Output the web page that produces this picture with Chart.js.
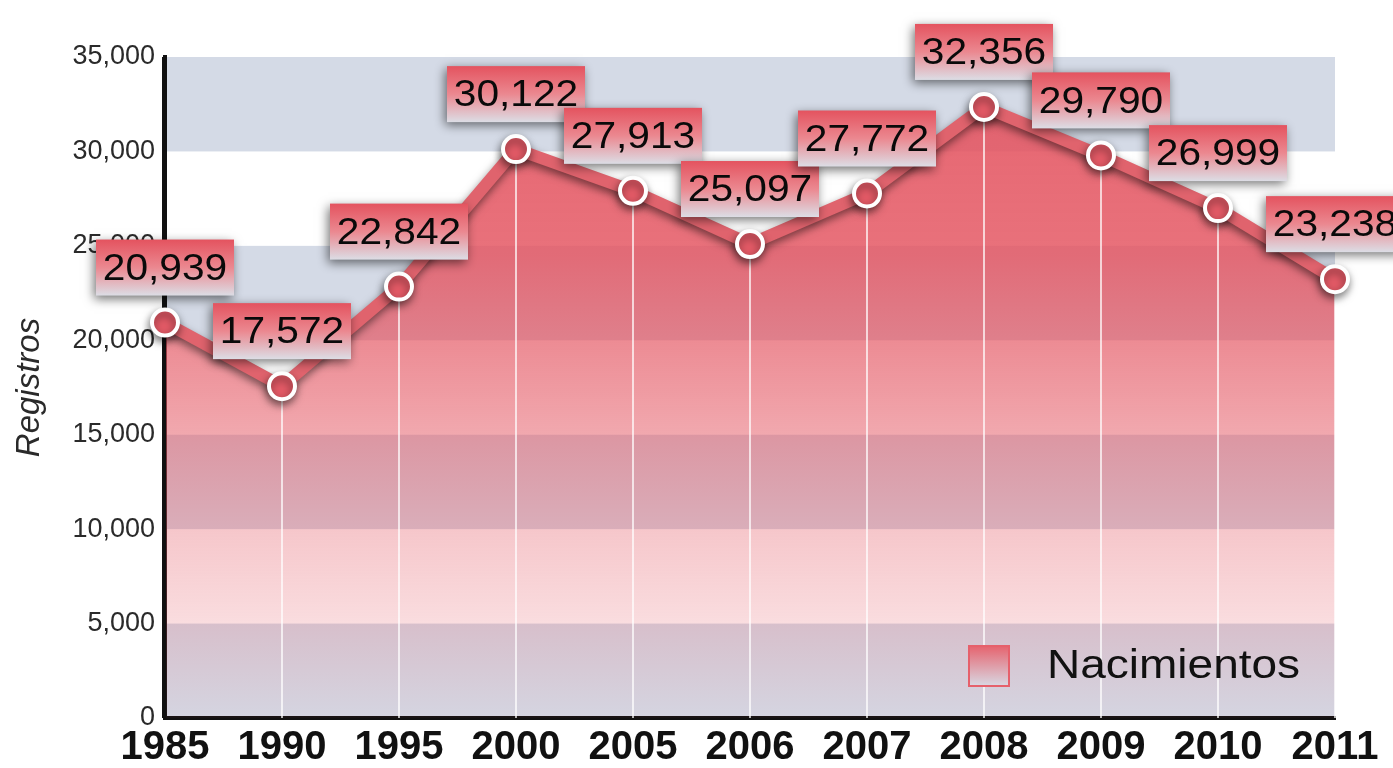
<!DOCTYPE html>
<html>
<head>
<meta charset="utf-8">
<script src="https://cdn.jsdelivr.net/npm/chart.js@4.4.1/dist/chart.umd.min.js"></script>
<style>
  html, body { margin:0; padding:0; background:#fff; }
  #wrap { width:1393px; height:768px; position:relative; }
</style>
</head>
<body>
<div id="wrap"><canvas id="grafico"></canvas></div>
<script>
// =====================================
// DATOS
// =====================================

const anios = ["1985","1990","1995","2000","2005","2006","2007","2008","2009","2010","2011"];
const nacimientos = [20939, 17572, 22842, 30122, 27913, 25097, 27772, 32356, 29790, 26999, 23238];
const serieNombre = "Nacimientos";
const ejeTitulo = "Registros";
const ejeMax = 35000;
const ejePaso = 5000;

const FUENTE = "'Liberation Sans', Arial, sans-serif";


// =====================================
// PLUGINS
// =====================================

// franjas horizontales de fondo
const franjas = {
    id:"franjas",
    beforeDraw(chart){
        const {ctx, chartArea, scales:{y}} = chart;
        ctx.save();
        ctx.fillStyle = "#d4dae6";
        for(let v = 0; v < ejeMax; v += ejePaso * 2){
            const y0 = y.getPixelForValue(v);
            const y1 = y.getPixelForValue(v + ejePaso);
            ctx.fillRect(chartArea.left, y1, chartArea.right - chartArea.left, y0 - y1);
        }
        ctx.restore();
    }
};

// lineas verticales blancas + sombra de la linea
const lineaSombra = {
    id:"lineaSombra",
    beforeDatasetDraw(chart, args){
        const {ctx, chartArea} = chart;
        const meta = args.meta;

        ctx.save();
        ctx.strokeStyle = "rgba(255,255,255,0.7)";
        ctx.lineWidth = 2;
        meta.data.forEach(p=>{
            ctx.beginPath();
            ctx.moveTo(p.x, p.y);
            ctx.lineTo(p.x, chartArea.bottom);
            ctx.stroke();
        });
        // eje vertical negro por encima del relleno
        ctx.strokeStyle = "#111";
        ctx.lineWidth = 4;
        ctx.beginPath();
        ctx.moveTo(chartArea.left - 1, chartArea.top);
        ctx.lineTo(chartArea.left - 1, chartArea.bottom);
        ctx.stroke();
        ctx.restore();

        ctx.save();
        ctx.shadowColor = "rgba(0,0,0,0.5)";
        ctx.shadowBlur = 9;
        ctx.shadowOffsetX = -1;
        ctx.shadowOffsetY = 4;
    },
    afterDatasetDraw(chart){
        chart.ctx.restore();
    }
};

// etiquetas de valores
const etiquetas = {
    id:"etiquetas",
    afterDatasetsDraw(chart){
        const {ctx} = chart;
        const meta = chart.getDatasetMeta(0);
        const datos = chart.data.datasets[0].data;

        meta.data.forEach((p,i)=>{
            const texto = datos[i].toLocaleString("en-US");
            const w = 138, h = 56;
            const cx = p.x, cy = p.y - 55;
            const x0 = cx - w/2, y0 = cy - h/2;

            ctx.save();
            const g = ctx.createLinearGradient(0, y0, 0, y0 + h);
            g.addColorStop(0, "#e4535f");
            g.addColorStop(0.5, "#eb8890");
            g.addColorStop(1, "#dcdde5");
            ctx.shadowColor = "rgba(0,0,0,0.55)";
            ctx.shadowBlur = 10;
            ctx.shadowOffsetX = -2;
            ctx.shadowOffsetY = 3;
            ctx.fillStyle = g;
            ctx.fillRect(x0, y0, w, h);
            ctx.restore();

            ctx.save();
            ctx.translate(cx, cy + 2);
            ctx.scale(1.1, 1);
            ctx.font = "37px " + FUENTE;
            ctx.fillStyle = "#0a0a0a";
            ctx.textAlign = "center";
            ctx.textBaseline = "middle";
            ctx.fillText(texto, 0, 0);
            ctx.restore();
        });
    }
};

// leyenda dentro del area
const leyenda = {
    id:"leyenda",
    afterDraw(chart){
        const {ctx, chartArea} = chart;
        const x = chartArea.right - 367;
        const y = chartArea.bottom - 73;
        const s = 42;

        ctx.save();
        const g = ctx.createLinearGradient(0, y, 0, y + s);
        g.addColorStop(0, "#e6606b");
        g.addColorStop(1, "#d8dbe6");
        ctx.fillStyle = g;
        ctx.fillRect(x, y, s, s);
        ctx.strokeStyle = "#e6606b";
        ctx.lineWidth = 2;
        ctx.strokeRect(x + 1, y + 1, s - 2, s - 2);

        ctx.translate(x + 79, y + s/2 + 1);
        ctx.scale(1.15, 1);
        ctx.font = "40px " + FUENTE;
        ctx.fillStyle = "#111";
        ctx.textAlign = "left";
        ctx.textBaseline = "middle";
        ctx.fillText(chart.data.datasets[0].label, 0, 0);
        ctx.restore();
    }
};


// =====================================
// GRAFICO
// =====================================

function rellenoRojo(context){
    const {chart} = context;
    const area = chart.chartArea;
    if(!area) return "rgba(228,86,98,0.6)";
    const g = chart.ctx.createLinearGradient(0, area.top, 0, area.bottom);
    g.addColorStop(0, "rgba(228,86,98,0.92)");
    g.addColorStop(0.3, "rgba(228,86,98,0.84)");
    g.addColorStop(0.5, "rgba(228,86,98,0.6)");
    g.addColorStop(0.72, "rgba(228,86,98,0.33)");
    g.addColorStop(0.86, "rgba(228,86,98,0.2)");
    g.addColorStop(1, "rgba(228,86,98,0.04)");
    return g;
}

const ctx = document.getElementById("grafico");

new Chart(ctx,{
    type:"line",
    data:{
        labels: anios,
        datasets:[{
            label: serieNombre,
            data: nacimientos,
            fill: "origin",
            backgroundColor: rellenoRojo,
            borderColor: "#e0636d",
            borderWidth: 12,
            borderJoinStyle: "round",
            tension: 0,
            clip: false,
            pointRadius: 13,
            pointBorderWidth: 4,
            pointBackgroundColor: "#e35a66",
            pointBorderColor: "#ffffff"
        }]
    },
    options:{
        responsive: true,
        maintainAspectRatio: false,
        animation: false,
        layout:{ padding:{ top:57, right:58, left:0, bottom:0 } },
        plugins:{
            legend:{ display:false },
            tooltip:{ enabled:false }
        },
        scales:{
            x:{
                offset: false,
                grid:{ display:false, drawTicks:false },
                border:{ display:true, color:"#111", width:4 },
                ticks:{
                    color:"#111",
                    padding: 6,
                    maxRotation: 0,
                    autoSkip: false,
                    font:{ family:FUENTE, size:40, weight:"bold" }
                },
                afterFit: s => { s.height = 50; }
            },
            y:{
                min: 0,
                max: ejeMax,
                grid:{ display:false, drawTicks:false },
                border:{ display:true, color:"#111", width:4 },
                ticks:{
                    stepSize: ejePaso,
                    color:"#2a2a2a",
                    padding: 10,
                    font:{ family:FUENTE, size:27 },
                    callback: v => v.toLocaleString("en-US")
                },
                title:{
                    display: true,
                    text: ejeTitulo,
                    color:"#2a2a2a",
                    padding:{ top:10, bottom:0 },
                    font:{ family:FUENTE, size:33, style:"italic", weight:"normal" }
                },
                afterFit: s => { s.width = 165; }
            }
        }
    },
    plugins:[franjas, lineaSombra, etiquetas, leyenda]
});
</script>
</body>
</html>
